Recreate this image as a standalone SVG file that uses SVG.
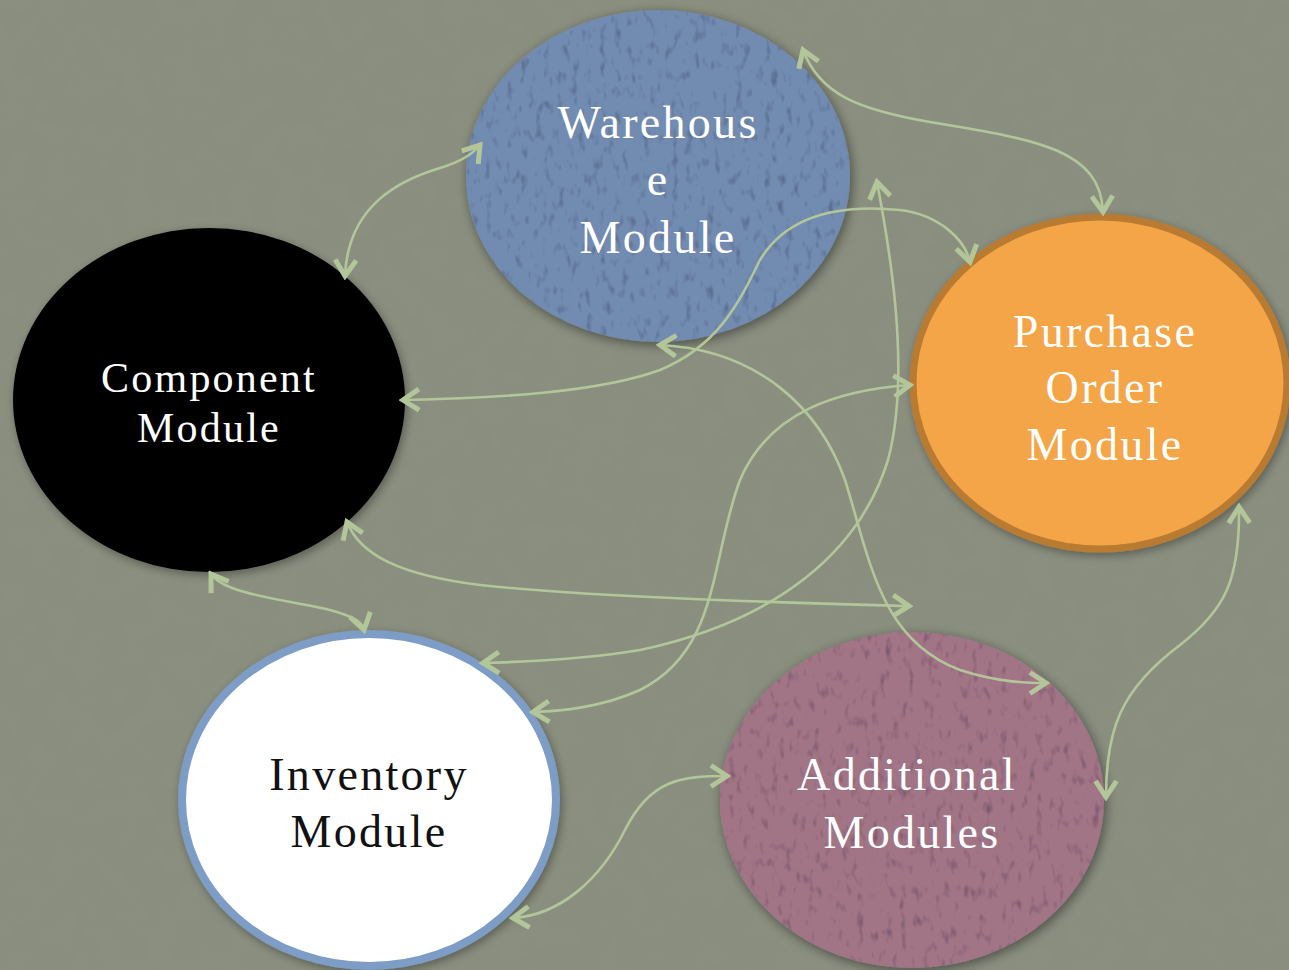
<svg xmlns="http://www.w3.org/2000/svg" width="1289" height="970" viewBox="0 0 1289 970">
<style>
.con{fill:none;stroke:#b3c69a;stroke-width:2.6;marker-start:url(#ah);marker-end:url(#ah)}
.lbl{font-family:"Liberation Serif","Times New Roman",serif;font-size:46px;letter-spacing:2.3px;text-anchor:middle;fill:#ffffff}
.dark{fill:#111111}
</style>
<defs>
<marker id="ah" viewBox="-20 -14 24 28" refX="0" refY="0" markerWidth="24" markerHeight="28" markerUnits="userSpaceOnUse" orient="auto-start-reverse">
<path d="M-16,-10.5 L0,0 L-16,10.5" fill="none" stroke="#b3c69a" stroke-width="5"/>
</marker>
<filter id="bgtex" x="0" y="0" width="1" height="1">
<feTurbulence type="fractalNoise" baseFrequency="0.04" numOctaves="4" seed="7" result="n"/>
<feColorMatrix in="n" type="matrix" values="0 0 0 0 0.25  0 0 0 0 0.27  0 0 0 0 0.22  -0.8 0 0 0 0.42" result="spots"/>
<feComposite in="spots" in2="SourceGraphic" operator="in" result="s2"/>
<feMerge><feMergeNode in="SourceGraphic"/><feMergeNode in="s2"/></feMerge>
</filter>
<filter id="tex" x="-10%" y="-10%" width="120%" height="120%">
<feGaussianBlur in="SourceAlpha" stdDeviation="6" result="b"/>
<feOffset in="b" dx="2" dy="3" result="bo"/>
<feComponentTransfer in="bo" result="sh"><feFuncA type="linear" slope="0.45"/></feComponentTransfer>
<feTurbulence type="fractalNoise" baseFrequency="0.14 0.07" numOctaves="2" seed="3" result="n"/>
<feColorMatrix in="n" type="matrix" values="0 0 0 0 0  0 0 0 0 0  0 0 0 0 0.05  -2.4 0 0 0 1.05" result="spots"/>
<feComponentTransfer in="spots" result="sp2"><feFuncA type="linear" slope="0.55"/></feComponentTransfer>
<feComposite in="sp2" in2="SourceGraphic" operator="in" result="s2"/>
<feMerge><feMergeNode in="sh"/><feMergeNode in="SourceGraphic"/><feMergeNode in="s2"/></feMerge>
</filter>
<filter id="shad" x="-10%" y="-10%" width="120%" height="120%">
<feGaussianBlur in="SourceAlpha" stdDeviation="5" result="b"/>
<feOffset in="b" dx="2" dy="3" result="bo"/>
<feComponentTransfer in="bo" result="sh"><feFuncA type="linear" slope="0.35"/></feComponentTransfer>
<feMerge><feMergeNode in="sh"/><feMergeNode in="SourceGraphic"/></feMerge>
</filter>
</defs>
<rect x="0" y="0" width="1289" height="970" fill="#8a8f7f" filter="url(#bgtex)"/>

<g id="node-warehouse">
<ellipse cx="658" cy="176" rx="192" ry="166" fill="#728bb0" filter="url(#tex)"/>
<text class="lbl" x="658" y="138">Warehous</text>
<text class="lbl" x="658" y="195">e</text>
<text class="lbl" x="658" y="253">Module</text>
</g>

<g id="node-component">
<ellipse cx="209" cy="400" rx="196" ry="172" fill="#000000" filter="url(#shad)"/>
<text class="lbl" x="209" y="392" style="font-size:42px;letter-spacing:2.2px">Component</text>
<text class="lbl" x="209" y="442" style="font-size:42px;letter-spacing:2.2px">Module</text>
</g>

<g id="node-purchase">
<ellipse cx="1100" cy="383" rx="187" ry="166" fill="#f3a547" stroke="#b97a31" stroke-width="7" filter="url(#shad)"/>
<text class="lbl" x="1105" y="347">Purchase</text>
<text class="lbl" x="1105" y="403">Order</text>
<text class="lbl" x="1105" y="460">Module</text>
</g>

<g id="node-inventory">
<ellipse cx="369" cy="800" rx="187" ry="166" fill="#ffffff" stroke="#7d9dc6" stroke-width="8" filter="url(#shad)"/>
<text class="lbl dark" x="369" y="790">Inventory</text>
<text class="lbl dark" x="369" y="847">Module</text>
</g>

<g id="node-additional">
<ellipse cx="912" cy="800" rx="192" ry="168" fill="#a27586" filter="url(#tex)"/>
<text class="lbl" x="907" y="790">Additional</text>
<text class="lbl" x="912" y="848">Modules</text>
</g>

<g id="connectors">
<path class="con" d="M345,276 C348,205 400,180 440,168 C460,162 472,155 480,145"/>
<path class="con" d="M803,50 C820,95 860,110 930,122 C1040,140 1100,150 1103,212"/>
<path class="con" d="M403,400 C500,398 600,392 660,370 C720,345 740,300 760,260 C790,210 850,205 900,210 C940,215 965,240 970,262"/>
<path class="con" d="M660,345 C760,350 820,410 845,480 C870,560 880,640 960,670 C1000,683 1030,683 1046,683"/>
<path class="con" d="M910,385 C840,390 770,410 740,480 C710,560 720,650 640,690 C600,708 560,711 533,712"/>
<path class="con" d="M877,182 C888,240 912,370 888,460 C860,550 780,620 640,650 C580,660 520,662 483,663"/>
<path class="con" d="M347,522 C360,555 400,575 480,585 C600,598 800,603 909,606"/>
<path class="con" d="M211,574 C225,595 290,600 330,610 C355,617 362,622 364,630"/>
<path class="con" d="M513,918 C560,915 600,880 625,830 C650,780 680,776 727,776"/>
<path class="con" d="M1239,507 C1240,580 1225,610 1180,645 C1120,690 1106,730 1106,797"/>
</g>
</svg>
